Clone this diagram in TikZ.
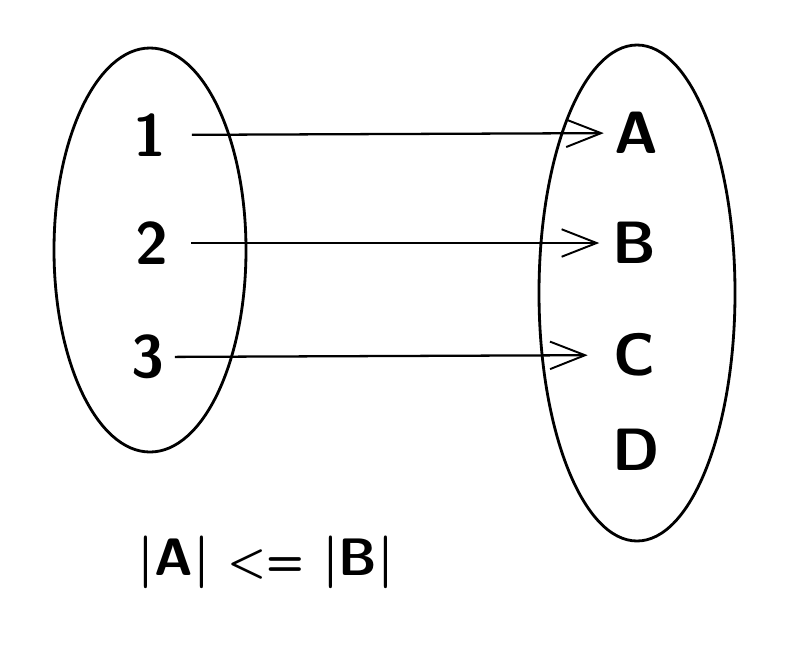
\documentclass[tikz,border=0pt]{standalone}
\usepackage{tikz}
\usetikzlibrary{arrows.meta}

\tikzset{
  elem/.style={inner sep=0pt, font=\sffamily\bfseries\fontsize{34}{40}\selectfont},
  mapsto/.style={line width=1.3pt, -{Straight Barb[length=7mm, width=5.5mm, line width=1.1pt]}},
  setline/.style={line width=1.6pt}
}

\begin{document}
\begin{tikzpicture}[x=0.02cm, y=-0.02cm]
  \useasboundingbox (0,0) rectangle (800,667);

  % the two sets
  \draw[setline] (150,250) ellipse [x radius=96, y radius=202];
  \draw[setline] (637,293) ellipse [x radius=98, y radius=248];

  \foreach \x/\y/\name/\label in {
    150/135/p1/1,
    152/243/p2/2,
    148/357/p3/3,
    636/133/qA/A,
    634/243/qB/B,
    634/355/qC/C,
    636/450/qD/D
  }{
    \node[elem] (\name) at (\x,\y) {\label};
  }

  \foreach \a/\b/\s/\t in {
    p1/qA/0.5cm/0.2cm,
    p2/qB/0.45cm/0.25cm,
    p3/qC/0.2cm/0.5cm
  }{
    \draw[mapsto, shorten <=\s, shorten >=\t] (\a) -- (\b);
  }

  \node[elem, font=\sffamily\bfseries\fontsize{30}{36}\selectfont] (card) at (266,562)
    {|A|\,\,{\fontsize{25}{30}\selectfont<=}\,\,|B|};
\end{tikzpicture}
\end{document}
